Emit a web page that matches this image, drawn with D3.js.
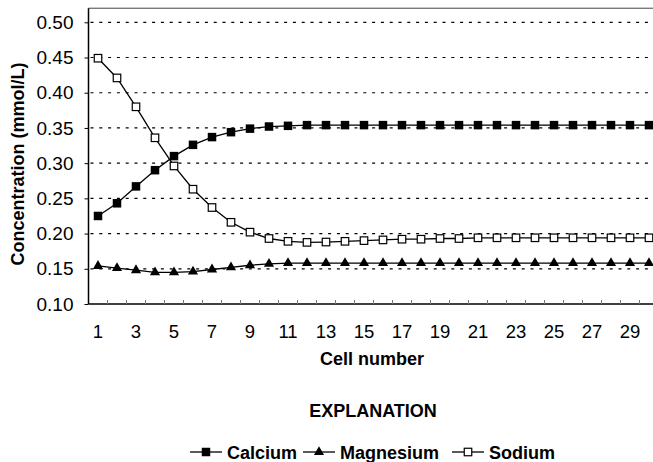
<!DOCTYPE html>
<html>
<head>
<meta charset="utf-8">
<script src="https://cdn.jsdelivr.net/npm/d3@7"></script>
<style>
  body { margin: 0; background: #fff; }
  svg { display: block; font-family: "Liberation Sans", Arial, sans-serif; }
</style>
</head>
<body>
<div id="chart"></div>
<script>
// data
const cells = [1,2,3,4,5,6,7,8,9,10,11,12,13,14,15,16,17,18,19,20,21,22,23,24,25,26,27,28,29,30];
const calcium = [0.225,0.243,0.267,0.290,0.310,0.326,0.337,0.344,0.349,0.352,0.353,0.354,0.354,0.354,0.354,
                 0.354,0.354,0.354,0.354,0.354,0.354,0.354,0.354,0.354,0.354,0.354,0.354,0.354,0.354,0.354];
const magnesium = [0.154,0.151,0.148,0.145,0.145,0.146,0.149,0.152,0.155,0.157,0.158,0.158,0.158,0.158,0.158,
                   0.158,0.158,0.158,0.158,0.158,0.158,0.158,0.158,0.158,0.158,0.158,0.158,0.158,0.158,0.158];
const sodium = [0.449,0.421,0.380,0.336,0.296,0.263,0.237,0.216,0.202,0.193,0.189,0.1875,0.188,0.189,0.190,
                0.191,0.192,0.192,0.193,0.193,0.194,0.194,0.194,0.194,0.194,0.194,0.194,0.194,0.194,0.194];
const yTicks = [0.10,0.15,0.20,0.25,0.30,0.35,0.40,0.45,0.50];
const seriesNames = ["Calcium", "Magnesium", "Sodium"];

const width = 653;
const height = 462;
const plot_left = 88.5;
const plot_right = 658.5; // plot runs past the right edge of the picture
const plot_top = 8;
const plot_bottom = 304;

const svg = d3.select("#chart").append("svg").attr("width", width).attr("height", height);

const xScale = d3.scaleBand().domain(cells).range([plot_left, plot_right]);
const yScale = d3.scaleLinear().domain([0.10, 0.50]).range([plot_bottom, 22.3]);
const cx = d => xScale(d) + xScale.bandwidth() / 2;

// frame top line
svg.append("line")
    .attr("x1", plot_left).attr("x2", plot_right)
    .attr("y1", yScale(0.52)).attr("y2", yScale(0.52))
    .attr("stroke", "#444").attr("stroke-width", 1);

// dotted gridlines
svg.append("g").selectAll("line").data(yTicks.filter(t => t > 0.10)).enter()
    .append("line")
    .attr("x1", plot_left + 2).attr("x2", 650)
    .attr("y1", d => yScale(d)).attr("y2", d => yScale(d))
    .attr("stroke", "#000").attr("stroke-width", 1.2)
    .attr("stroke-dasharray", "3,5.8");

// y axis
const yAxis = d3.axisLeft(yScale).tickValues(yTicks).tickFormat(d3.format(".2f")).tickSize(4).tickPadding(11);
const gy = svg.append("g").attr("transform", `translate(${plot_left},0)`).call(yAxis);
gy.select(".domain").attr("stroke", "#000").attr("stroke-width", 1.5).attr("d", `M0,${yScale(0.52)}V${plot_bottom}`);
gy.selectAll("text").attr("font-size", 19).attr("fill", "#000");

// x axis: labels on odd cells, inward ticks on every boundary
const xAxis = d3.axisBottom(xScale).tickValues(cells.filter(c => c % 2 === 1)).tickSize(0).tickPadding(21);
const gx = svg.append("g").attr("transform", `translate(0,${plot_bottom})`).call(xAxis);
gx.select(".domain").attr("stroke", "#000").attr("stroke-width", 1.6).attr("d", `M${plot_left},0H${plot_right}`);
gx.selectAll("text").attr("font-size", 18.5).attr("fill", "#000");
svg.append("g").selectAll("line").data(cells.slice(1)).enter()
    .append("line")
    .attr("x1", d => xScale(d)).attr("x2", d => xScale(d))
    .attr("y1", plot_bottom).attr("y2", plot_bottom - 4)
    .attr("stroke", "#777").attr("stroke-width", 1);

// markers
function marker(sel, name, size) {
    if (name === "Calcium") {
        sel.append("rect").attr("x", -size / 2).attr("y", -size / 2)
            .attr("width", size).attr("height", size).attr("fill", "#000");
    } else if (name === "Magnesium") {
        sel.append("path").attr("d", d3.symbol(d3.symbolTriangle, size * size * 0.62)())
            .attr("fill", "#000");
    } else {
        const s = size - 1;
        sel.append("rect").attr("x", -s / 2).attr("y", -s / 2)
            .attr("width", s).attr("height", s)
            .attr("fill", "#fff").attr("stroke", "#000").attr("stroke-width", 1.2);
    }
}

const seriesData = [calcium, magnesium, sodium];
const line = d3.line().x((d, i) => cx(cells[i])).y(d => yScale(d));

seriesData.forEach((values, k) => {
    const g = svg.append("g");
    g.append("path").datum(values).attr("d", line)
        .attr("fill", "none").attr("stroke", "#000").attr("stroke-width", 1.3);
    g.selectAll("g.pt").data(values).enter()
        .append("g").attr("class", "pt")
        .attr("transform", (d, i) => `translate(${cx(cells[i])},${yScale(d)})`)
        .each(function() { marker(d3.select(this), seriesNames[k], 8.5); });
});

// axis titles
svg.append("text")
    .attr("transform", `translate(24,${(plot_top + plot_bottom) / 2 + 8}) rotate(-90)`)
    .attr("text-anchor", "middle").attr("font-size", 18).attr("font-weight", "bold")
    .text("Concentration (mmol/L)");

svg.append("text")
    .attr("x", 372).attr("y", 365)
    .attr("text-anchor", "middle").attr("font-size", 18).attr("font-weight", "bold")
    .text("Cell number");

svg.append("text")
    .attr("x", 373).attr("y", 417)
    .attr("text-anchor", "middle").attr("font-size", 18).attr("font-weight", "bold")
    .text("EXPLANATION");

// legend
const legendX = [190, 303, 452];
const legendY = 452;
seriesNames.forEach((name, k) => {
    const g = svg.append("g").attr("transform", `translate(${legendX[k]},${legendY})`);
    g.append("line").attr("x1", 0).attr("x2", 32).attr("y1", 0).attr("y2", 0)
        .attr("stroke", "#000").attr("stroke-width", 1.3);
    const m = g.append("g").attr("transform", "translate(16,0)");
    marker(m, name, 8.5);
    g.append("text").attr("x", 37).attr("y", 7)
        .attr("font-size", 18).attr("font-weight", "bold")
        .text(name);
});
</script>
</body>
</html>
